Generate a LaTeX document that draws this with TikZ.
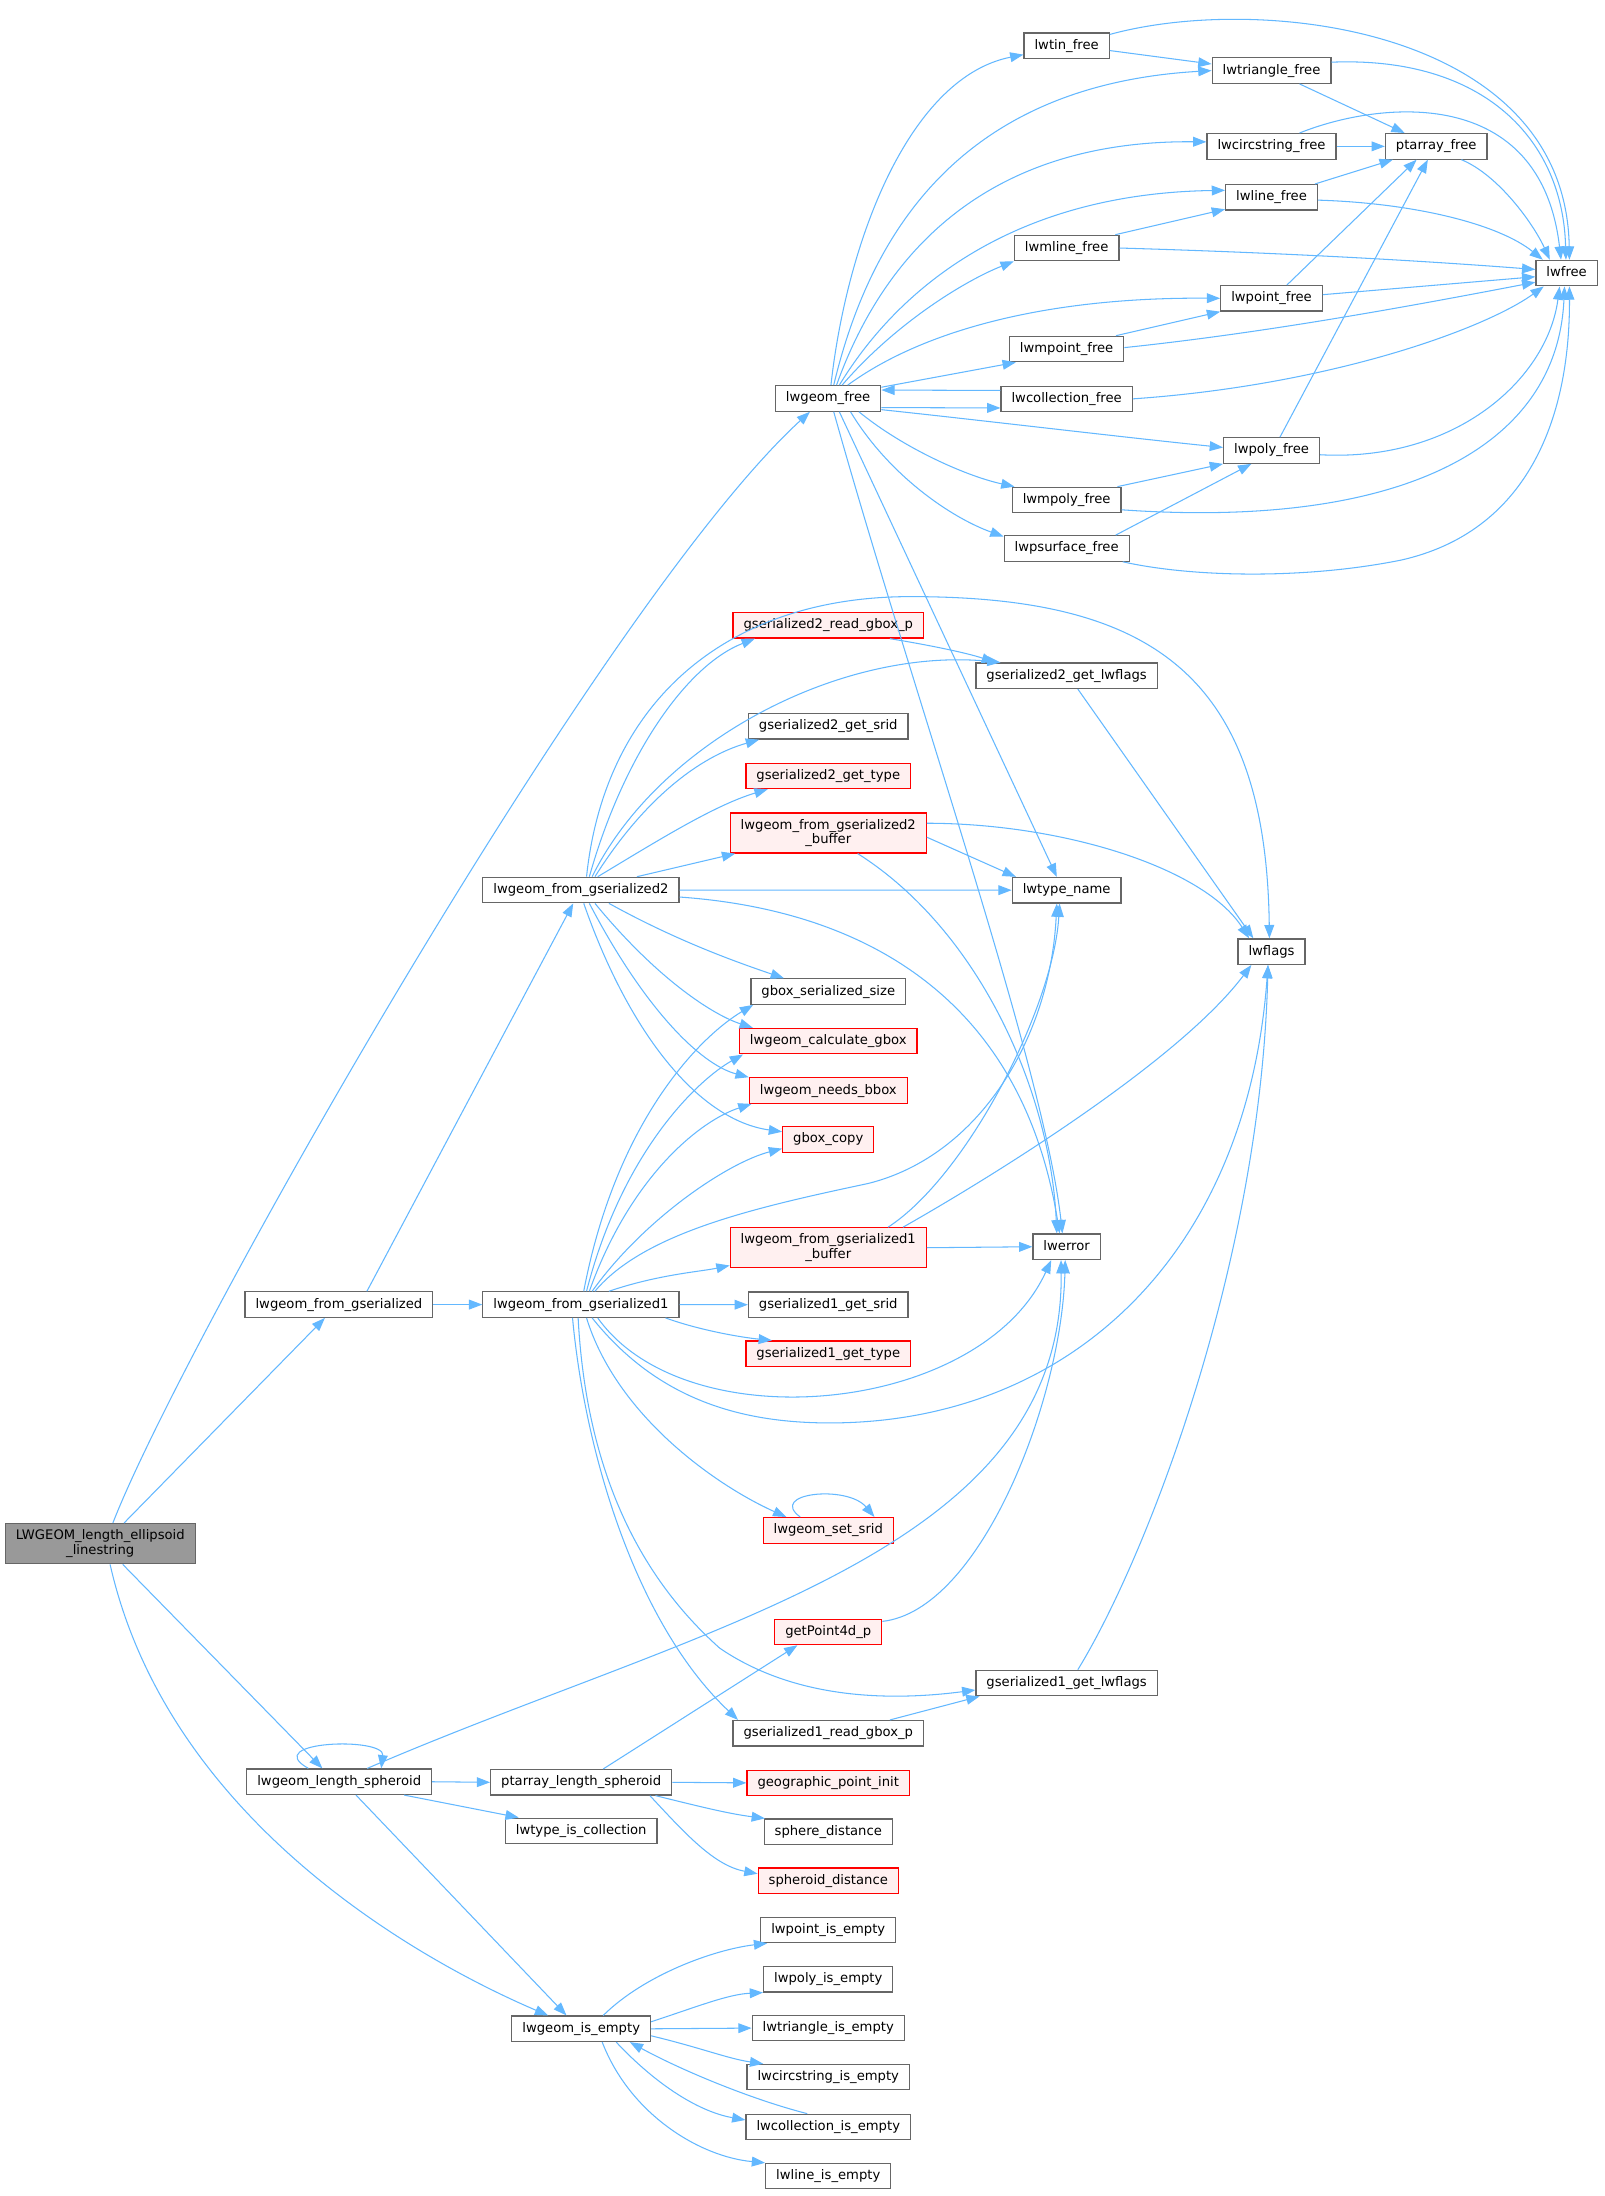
\documentclass[tikz,border=0pt]{standalone}
\usepackage{fontspec}
\setmainfont{DejaVu Sans}
\usetikzlibrary{arrows.meta}
\definecolor{edgec}{HTML}{63B8FF}
\definecolor{nodeb}{HTML}{666666}
\definecolor{redb}{HTML}{FF0000}
\definecolor{redf}{HTML}{FFF0F0}
\definecolor{rootf}{HTML}{999999}
\newcommand\dgfont{\fontsize{9.4}{10.4}\selectfont}
\tikzset{
  base/.style={draw=nodeb, line width=0.85pt, fill=white, inner xsep=7.5pt, inner ysep=0pt, font=\dgfont, text=black},
  nb/.style={base, minimum height=18.2pt, text height=7.1pt, text depth=2.2pt},
  rb/.style={nb, draw=redb, fill=redf},
  rb2/.style={base, draw=redb, fill=redf, align=center, minimum height=28.5pt},
  rootbox/.style={base, fill=rootf, align=center, minimum height=28.7pt},
  e/.style={draw=edgec, line width=0.75pt, -{Triangle[length=9.5pt,width=7pt]}},
}
\begin{document}
\begin{tikzpicture}[x=1pt,y=-1pt]
\fill[white] (0,0) rectangle (1145.3,1568);
\useasboundingbox (0,0) rectangle (1145.3,1568);
% nodes
\node[rootbox] (root) at (71.6,1102.2) {LWGEOM\_length\_ellipsoid\\\_linestring};
\node[nb] (lgf) at (591.3,284.5) {lwgeom\_free};
\node[nb] (tin) at (761.6,32.6) {lwtin\_free};
\node[nb] (tri) at (907.9,50.4) {lwtriangle\_free};
\node[nb] (lcs) at (907.9,104.5) {lwcircstring\_free};
\node[nb] (ptf) at (1025.5,104.5) {ptarray\_free};
\node[nb] (lnf) at (907.9,140.9) {lwline\_free};
\node[nb] (mlf) at (761.6,177.1) {lwmline\_free};
\node[nb] (lwfree) at (1118.6,195) {lwfree};
\node[nb] (ptfree) at (907.9,213) {lwpoint\_free};
\node[nb] (mpf) at (761.6,249.2) {lwmpoint\_free};
\node[nb] (colf) at (761.6,284.8) {lwcollection\_free};
\node[nb] (polyf) at (907.9,321.7) {lwpoly\_free};
\node[nb] (mpolyf) at (761.6,357) {lwmpoly\_free};
\node[nb] (psf) at (761.6,391.6) {lwpsurface\_free};
\node[rb] (g2rgb) at (591.4,446.5) {gserialized2\_read\_gbox\_p};
\node[nb] (g2gl) at (761.6,482.5) {gserialized2\_get\_lwflags};
\node[nb] (g2srid) at (591.4,518.6) {gserialized2\_get\_srid};
\node[rb] (g2type) at (591.4,554) {gserialized2\_get\_type};
\node[rb2] (g2buf) at (591.4,594.8) {lwgeom\_from\_gserialized2\\\_buffer};
\node[nb] (lwg2) at (414.8,635.5) {lwgeom\_from\_gserialized2};
\node[nb] (ltn) at (761.6,635.6) {lwtype\_name};
\node[nb] (lwflags) at (907.9,679.5) {lwflags};
\node[nb] (gss) at (591.4,708) {gbox\_serialized\_size};
\node[rb] (lcg) at (591.4,743.4) {lwgeom\_calculate\_gbox};
\node[rb] (lnb) at (591.4,778.7) {lwgeom\_needs\_bbox};
\node[rb] (gbc) at (591.4,813.6) {gbox\_copy};
\node[rb2] (g1buf) at (591.4,890.9) {lwgeom\_from\_gserialized1\\\_buffer};
\node[nb] (lwerror) at (761.6,890.2) {lwerror};
\node[nb] (lwgfs) at (242,931.5) {lwgeom\_from\_gserialized};
\node[nb] (lwg1) at (414.8,931.5) {lwgeom\_from\_gserialized1};
\node[nb] (g1srid) at (591.4,931.6) {gserialized1\_get\_srid};
\node[rb] (g1type) at (591.4,966.6) {gserialized1\_get\_type};
\node[rb] (lss) at (591.4,1092.7) {lwgeom\_set\_srid};
\node[rb] (gp4) at (591.4,1165.2) {getPoint4d\_p};
\node[nb] (g1gl) at (761.6,1201.7) {gserialized1\_get\_lwflags};
\node[nb] (g1rgb) at (591.4,1237.6) {gserialized1\_read\_gbox\_p};
\node[nb] (lls) at (242.2,1272.2) {lwgeom\_length\_spheroid};
\node[nb] (pls) at (415,1272.6) {ptarray\_length\_spheroid};
\node[rb] (gpi) at (591.4,1273) {geographic\_point\_init};
\node[nb] (ltic) at (415,1307.3) {lwtype\_is\_collection};
\node[nb] (sphd) at (591.4,1307.9) {sphere\_distance};
\node[rb] (sphrd) at (591.4,1342.9) {spheroid\_distance};
\node[nb] (lpie) at (591.4,1378) {lwpoint\_is\_empty};
\node[nb] (lpoie) at (591.4,1413.2) {lwpoly\_is\_empty};
\node[nb] (lie) at (415,1448.6) {lwgeom\_is\_empty};
\node[nb] (ltie) at (591.4,1448.1) {lwtriangle\_is\_empty};
\node[nb] (lcsie) at (591.4,1483.1) {lwcircstring\_is\_empty};
\node[nb] (lcie) at (591.4,1518.7) {lwcollection\_is\_empty};
\node[nb] (llie) at (591.4,1553.8) {lwline\_is\_empty};
% root edges
\draw[e] ([xshift=9]root.north) .. controls (130,960) and (430,430) .. ([xshift=-13]lgf.south);
\draw[e] ([xshift=17]root.north) -- ([xshift=-10]lwgfs.south);
\draw[e] ([xshift=16]root.south) -- ([xshift=-12]lls.north);
\draw[e] ([xshift=7]root.south) .. controls (120,1300) and (300,1400) .. ([xshift=-23.6]lie.north);
% lwgeom_free fan
\draw[e] ([xshift=2]lgf.north) .. controls (605,170) and (650,55) .. ([yshift=-6.4]tin.west);
\draw[e] ([xshift=4]lgf.north) .. controls (625,150) and (700,60) .. (tri.west);
\draw[e] ([xshift=6]lgf.north) .. controls (635,170) and (715,100) .. ([yshift=3.2]lcs.west);
\draw[e] ([xshift=8]lgf.north) .. controls (645,200) and (730,138) .. ([yshift=5]lnf.west);
\draw[e] ([xshift=10]lgf.north) .. controls (640,230) and (690,200) .. (mlf.south west);
\draw[e] ([xshift=14]lgf.north) .. controls (660,235) and (750,212) .. (ptfree.west);
\draw[e] ([yshift=8]lgf.east) -- ([xshift=5]mpf.south west);
\draw[e] ([yshift=6]colf.west) -- ([yshift=6]lgf.east);
\draw[e] ([yshift=-6.5]lgf.east) -- ([yshift=-6.5]colf.west);
\draw[e] ([yshift=-8]lgf.east) .. controls (700,300) and (800,312) .. ([yshift=2.2]polyf.west);
\draw[e] ([xshift=22]lgf.south) .. controls (645,320) and (690,340) .. ([xshift=2]mpolyf.north west);
\draw[e] ([xshift=16]lgf.south) .. controls (635,340) and (680,370) .. ([yshift=-1]psf.north west);
\draw[e] ([xshift=8]lgf.south) -- ([xshift=-7]ltn.north);
\draw[e] ([xshift=4]lgf.south) .. controls (650,490) and (745,760) .. ([xshift=-3]lwerror.north);
% free functions
\draw[e] ([yshift=-3.5]tin.east) -- ([yshift=4.7]tri.west);
\draw[e] ([yshift=8]tin.east) .. controls (900,-5) and (1118,20) .. ([xshift=2]lwfree.north);
\draw[e] ([xshift=20]tri.south) -- ([xshift=-22.5]ptf.north);
\draw[e] ([yshift=6]tri.east) .. controls (1060,40) and (1116,100) .. ([xshift=-0.5]lwfree.north);
\draw[e] (lcs.east) -- (ptf.west);
\draw[e] ([xshift=20]lcs.north) .. controls (985,72) and (1100,60) .. ([xshift=-4]lwfree.north);
\draw[e] ([xshift=18]ptf.south) .. controls (1070,125) and (1095,160) .. ([xshift=-12]lwfree.north);
\draw[e] ([xshift=31]lnf.north) -- ([xshift=-31]ptf.south);
\draw[e] ([yshift=-2]lnf.east) .. controls (1010,145) and (1070,160) .. ([xshift=-17]lwfree.north);
\draw[e] ([xshift=-3]mlf.north east) -- ([yshift=1]lnf.south west);
\draw[e] (mlf.east) .. controls (900,180) and (1000,185) .. ([yshift=2.6]lwfree.west);
\draw[e] ([xshift=11]ptfree.north) -- ([xshift=-14]ptf.south);
\draw[e] ([yshift=2.6]ptfree.east) -- ([yshift=-2.6]lwfree.west);
\draw[e] ([xshift=-6]mpf.north east) -- (ptfree.south west);
\draw[e] ([yshift=1]mpf.east) .. controls (900,238) and (1000,220) .. ([yshift=-6.5]lwfree.west);
\draw[e] (colf.east) .. controls (950,275) and (1060,235) .. ([xshift=6]lwfree.south west);
\draw[e] ([xshift=6]polyf.north) -- ([xshift=-6]ptf.south);
\draw[e] ([yshift=-3]polyf.east) .. controls (1040,330) and (1105,270) .. ([xshift=-5]lwfree.south);
\draw[e] ([xshift=-3]mpolyf.north east) -- (polyf.south west);
\draw[e] ([yshift=-7]mpolyf.east) .. controls (1000,378) and (1112,320) .. ([xshift=-1.5]lwfree.south);
\draw[e] ([xshift=-10]psf.north east) -- ([xshift=-14.4]polyf.south);
\draw[e] ([xshift=-5]psf.south east) .. controls (850,412) and (930,414) .. (1000,400) .. controls (1090,380) and (1121,300) .. ([xshift=2]lwfree.south);
% lwgeom_from_gserialized
\draw[e] ([xshift=20]lwgfs.north) -- ([xshift=-5.5]lwg2.south);
\draw[e] (lwgfs.east) -- (lwg1.west);
% lwgeom_from_gserialized2 fan
\draw[e] ([xshift=4]lwg2.north) .. controls (432,500) and (520,426) .. (650,426) .. controls (820,426) and (904,480) .. ([xshift=-1.5]lwflags.north);
\draw[e] ([xshift=6]lwg2.north) .. controls (445,540) and (490,475) .. ([xshift=16]g2rgb.south west);
\draw[e] ([xshift=8]lwg2.north) .. controls (470,530) and (600,462) .. ([xshift=18]g2gl.north west);
\draw[e] ([xshift=10]lwg2.north) .. controls (460,570) and (500,540) .. ([xshift=8]g2srid.south west);
\draw[e] ([xshift=12]lwg2.north) .. controls (470,600) and (510,575) .. ([xshift=16]g2type.south west);
\draw[e] ([xshift=40]lwg2.north) -- ([xshift=4]g2buf.south west);
\draw[e] (lwg2.east) -- (ltn.west);
\draw[e] ([yshift=-5]lwg2.east) .. controls (620,650) and (730,715) .. ([xshift=-5]lwerror.north);
\draw[e] ([xshift=20]lwg2.south) .. controls (480,670) and (520,685) .. ([xshift=24]gss.north west);
\draw[e] ([xshift=10]lwg2.south) .. controls (470,700) and (510,725) .. ([xshift=10]lcg.north west);
\draw[e] ([xshift=6]lwg2.south) .. controls (460,720) and (500,760) .. (lnb.north west);
\draw[e] ([xshift=2]lwg2.south) .. controls (450,740) and (500,800) .. ([yshift=-4]gbc.north west);
% lwgeom_from_gserialized1 fan
\draw[e] ([xshift=2]lwg1.north) .. controls (440,800) and (500,740) .. ([xshift=2]gss.south west);
\draw[e] ([xshift=4]lwg1.north) .. controls (445,820) and (500,770) .. ([xshift=3]lcg.south west);
\draw[e] ([xshift=6]lwg1.north) .. controls (450,840) and (500,800) .. ([xshift=2]lnb.south west);
\draw[e] ([xshift=8]lwg1.north) .. controls (460,870) and (520,830) .. ([yshift=3]gbc.south west);
\draw[e] ([xshift=10]lwg1.north) .. controls (460,880) and (540,862) .. (620,845) .. controls (700,825) and (750,740) .. ([xshift=-7]ltn.south);
\draw[e] ([xshift=20]lwg1.north) .. controls (470,910) and (500,908) .. ([yshift=2]g1buf.south west);
\draw[e] (lwg1.east) -- (g1srid.west);
\draw[e] ([xshift=-10]lwg1.south east) .. controls (500,950) and (530,955) .. ([xshift=19]g1type.north west);
\draw[e] ([xshift=12]lwg1.south) .. controls (490,1030) and (700,1010) .. ([xshift=-11]lwerror.south);
\draw[e] ([xshift=8]lwg1.south) .. controls (470,1000) and (530,1016) .. (592.5,1016) .. controls (760,1016) and (890,900) .. ([xshift=-2.5]lwflags.south);
\draw[e] ([xshift=4]lwg1.south) .. controls (440,1010) and (510,1060) .. ([xshift=17]lss.north west);
\draw[e] ([xshift=-2]lwg1.south) .. controls (418,1040) and (450,1120) .. (514,1176.9) .. controls (570,1215) and (640,1214) .. ([yshift=-5]g1gl.west);
\draw[e] ([xshift=-6]lwg1.south) .. controls (418,1040) and (455,1160) .. ([xshift=4]g1rgb.north west);
% gserialized2 helpers
\draw[e] ([xshift=44]g2rgb.south) .. controls (660,460) and (690,466) .. ([xshift=14]g2gl.north west);
\draw[e] ([xshift=8]g2gl.south) -- ([xshift=-13]lwflags.north);
\draw[e] ([yshift=7]g2buf.east) .. controls (760,588) and (860,620) .. ([xshift=-16]lwflags.north);
\draw[e] ([yshift=-3]g2buf.east) -- ([xshift=3]ltn.north west);
\draw[e] ([xshift=21]g2buf.south) .. controls (700,665) and (750,780) .. ([xshift=-7]lwerror.north);
% gserialized1 helpers
\draw[e] (g1buf.east) -- (lwerror.west);
\draw[e] ([xshift=42.7]g1buf.north) .. controls (690,840) and (752,720) .. ([xshift=-5]ltn.south);
\draw[e] ([xshift=53.4]g1buf.north) .. controls (700,845) and (840,760) .. ([xshift=-14.4]lwflags.south);
\draw[e] ([xshift=-20]lss.north) .. controls (548,1066) and (605,1060) .. ([xshift=33]lss.north);
\draw[e] ([yshift=7.5]gp4.east) .. controls (700,1150) and (758,1000) .. ([xshift=-1]lwerror.south);
\draw[e] ([xshift=44]g1rgb.north) -- ([xshift=3]g1gl.south west);
\draw[e] ([xshift=8]g1gl.north) .. controls (820,1110) and (900,900) .. ([xshift=-2.5]lwflags.south);
% lwgeom_length_spheroid
\draw[e] ([xshift=-22]lls.north) .. controls (185,1243) and (275,1240) .. ([xshift=30]lls.north);
\draw[e] ([xshift=20]lls.north) .. controls (500,1160) and (760,1110) .. ([xshift=-4]lwerror.south);
\draw[e] (lls.east) -- (pls.west);
\draw[e] ([xshift=-20]lls.south east) -- ([xshift=10]ltic.north west);
\draw[e] ([xshift=12]lls.south) -- ([xshift=-10.5]lie.north);
% ptarray_length_spheroid
\draw[e] ([xshift=15.7]pls.north) -- ([xshift=-22]gp4.south);
\draw[e] (pls.east) -- (gpi.west);
\draw[e] ([xshift=-12]pls.south east) .. controls (500,1290) and (520,1295) .. ([xshift=1]sphd.north west);
\draw[e] ([xshift=-16]pls.south east) .. controls (490,1310) and (510,1332) .. ([yshift=5]sphrd.west);
% lwgeom_is_empty
\draw[e] ([xshift=15.7]lie.north) .. controls (460,1410) and (510,1392) .. ([xshift=5]lpie.south west);
\draw[e] ([yshift=5]lie.east) .. controls (500,1432) and (520,1424) .. (lpoie.south west);
\draw[e] (lie.east) -- (ltie.west);
\draw[e] ([yshift=-5]lie.east) .. controls (500,1462) and (520,1470) .. ([xshift=12]lcsie.north west);
\draw[e] ([xshift=25]lie.south) .. controls (470,1490) and (500,1508) .. ([yshift=5]lcie.west);
\draw[e] ([xshift=-15]lcie.north) .. controls (540,1500) and (490,1480) .. ([xshift=34.7]lie.south);
\draw[e] ([xshift=15]lie.south) .. controls (450,1510) and (500,1540) .. (llie.north west);
\end{tikzpicture}
\end{document}
